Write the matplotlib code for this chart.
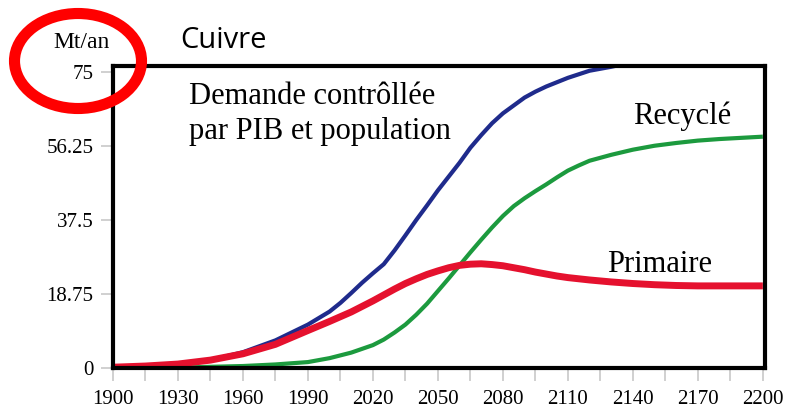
import matplotlib
matplotlib.use("Agg")
from matplotlib import pyplot as plt
from matplotlib.patches import Ellipse

# values (Mt/an)
years_demand = [1900, 1915, 1930, 1945, 1960, 1975, 1990, 2000, 2005, 2010, 2015,
                2020, 2025, 2030, 2035, 2040, 2045, 2050, 2055, 2060, 2065, 2070,
                2075, 2080, 2085, 2090, 2095, 2100, 2110, 2120, 2130, 2136]
demand = [0.3, 0.5, 1.0, 2.0, 4.0, 7.0, 11.0, 14.3, 16.5, 19.0, 21.6,
          24.0, 26.3, 29.8, 33.6, 37.5, 41.2, 45.0, 48.5, 52.0, 55.8, 59.0,
          62.0, 64.5, 66.5, 68.5, 70.0, 71.3, 73.5, 75.3, 76.3, 77.0]

years = [1900, 1915, 1930, 1945, 1960, 1975, 1990, 2000, 2010, 2020, 2025, 2030,
         2035, 2040, 2045, 2050, 2055, 2060, 2065, 2070, 2075, 2080, 2085, 2090,
         2095, 2100, 2105, 2110, 2115, 2120, 2130, 2140, 2150, 2160, 2170, 2180,
         2190, 2200]
recycle = [0.0, 0.05, 0.1, 0.3, 0.5, 0.9, 1.5, 2.5, 3.9, 5.8, 7.2, 9.0,
           11.0, 13.5, 16.3, 19.5, 22.7, 26.0, 29.3, 32.5, 35.6, 38.5, 41.0, 43.0,
           44.8, 46.5, 48.3, 50.0, 51.3, 52.5, 54.0, 55.3, 56.3, 57.0, 57.6, 58.0,
           58.3, 58.6]
primaire = [0.2, 0.5, 1.0, 2.0, 3.6, 6.0, 9.5, 11.8, 14.2, 17.0, 18.5, 20.0,
            21.4, 22.6, 23.7, 24.6, 25.4, 26.0, 26.3, 26.4, 26.2, 25.9, 25.4, 24.9,
            24.3, 23.8, 23.3, 22.9, 22.6, 22.3, 21.8, 21.4, 21.1, 20.9, 20.8, 20.8,
            20.8, 20.8]

xticks = [1900, 1930, 1960, 1990, 2020, 2050, 2080, 2110, 2140, 2170, 2200]
yticks = [0, 18.75, 37.5, 56.25, 75]
ytick_labels = ["0", "18.75", "37.5", "56.25", "75"]

serif = "Liberation Serif"

fig = plt.figure(figsize=(7.86, 4.08), dpi=100)
ax = fig.add_axes([113 / 786, 1 - 368 / 408, 652 / 786, 302 / 408])

style = dict(solid_capstyle="butt", solid_joinstyle="round")
ax.plot(years_demand, demand, color="#1f2b8c", lw=3, **style)
ax.plot(years, recycle, color="#1c9a3e", lw=3, **style)
ax.plot(years, primaire, color="#e5112e", lw=5, **style)

ax.set_xlim(1900, 2201)
ax.set_ylim(0, 76.5)

ax.set_xticks(xticks)
ax.set_xticks(range(1915, 2200, 30), minor=True)
ax.set_yticks(yticks)
ax.set_yticklabels(ytick_labels)
for lab in ax.get_xticklabels() + ax.get_yticklabels():
    lab.set_fontfamily(serif)
    lab.set_fontsize(15)
ax.tick_params(axis="both", which="both", direction="out", color="#c8c8c8",
               length=9, width=1.2, pad=5)
ax.tick_params(axis="x", pad=7)

for s in ax.spines.values():
    s.set_linewidth(3)
    s.set_color("black")

ax.text(1935, 72.5, "Demande contrôllée\npar PIB et population", family=serif,
        fontsize=22, va="top", linespacing=1.3)
ax.text(2140, 63.8, "Recyclé", family=serif, fontsize=22, va="center")
ax.text(2128, 26.2, "Primaire", family=serif, fontsize=22, va="center")

fig.text(180 / 786, 1 - 40 / 408, "Cuivre", family="Open Sans", fontsize=21, va="center")
fig.text(81 / 786, 1 - 42 / 408, "Mt/an", family=serif, fontsize=17,
         ha="center", va="center")

circle = Ellipse((78 / 786, 1 - 61 / 408), 127 / 786, 95 / 408, transform=fig.transFigure,
                 fill=False, edgecolor="#ff0000", lw=8)
fig.patches.append(circle)

fig.savefig("out.png", dpi=100)
